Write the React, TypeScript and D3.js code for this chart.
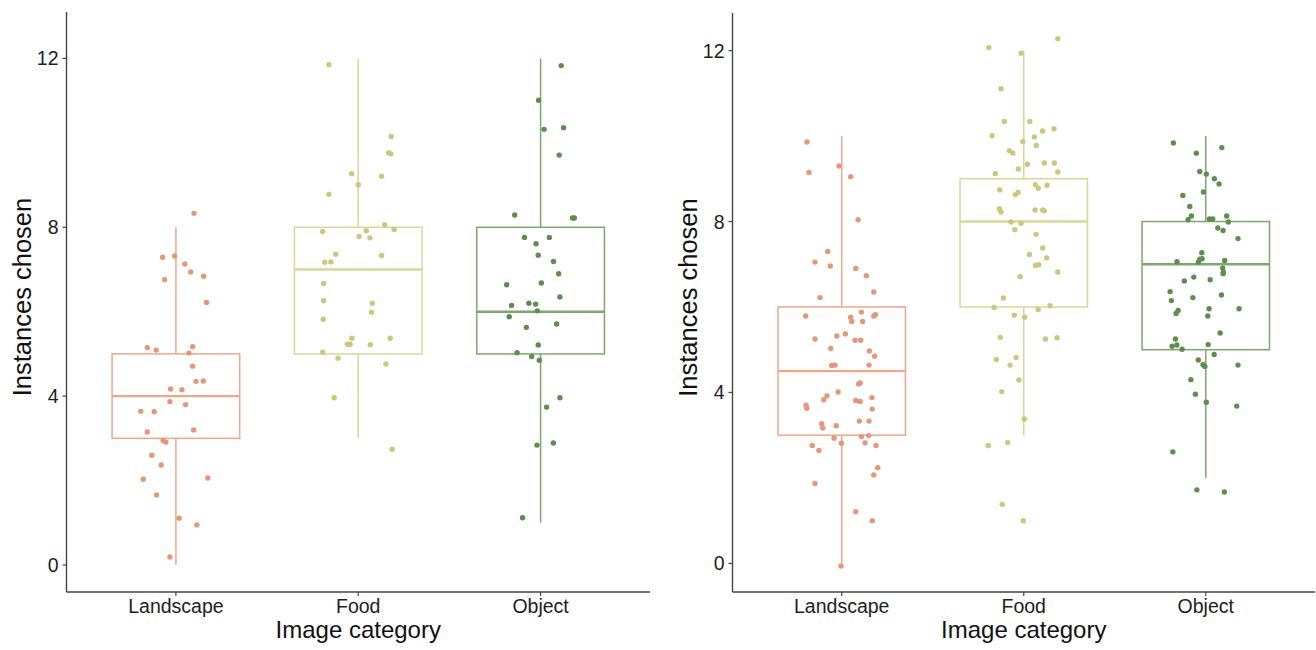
import React from "react";
import * as d3 from "d3";

// categories and box statistics [lower whisker, q1, median, q3, upper whisker]
const categories = ["Landscape", "Food", "Object"];
const yTicks = [0, 4, 8, 12];

const leftBoxStats = [
  [0, 3, 4, 5, 8],
  [3, 5, 7, 8, 12],
  [1, 5, 6, 8, 12]
];
const rightBoxStats = [
  [0, 3, 4.5, 6, 10],
  [3, 6, 8, 9, 12],
  [2, 5, 7, 8, 10]
];

// jittered points: value, horizontal jitter (in category units)
const leftLandscapeValues = [8.33, 7.29, 7.32, 7.13, 6.94, 6.84, 6.76, 6.22, 5.15, 5.09, 5.17, 5.02, 4.71, 4.35, 4.36, 4.17, 4.15, 3.87, 3.8, 3.64, 3.63, 3.15, 3.2, 2.95, 2.91, 2.6, 2.37, 2.03, 2.06, 1.66, 1.11, 0.95, 0.19];
const leftLandscapeJitter = [0.099, -0.073, -0.007, 0.049, 0.081, 0.152, -0.062, 0.168, -0.157, -0.108, 0.092, 0.071, 0.092, 0.11, 0.15, -0.029, 0.033, -0.033, 0.053, -0.193, -0.119, -0.157, 0.097, -0.07, -0.055, -0.132, -0.081, -0.179, 0.175, -0.106, 0.018, 0.115, -0.033];

const leftFoodValues = [11.85, 10.15, 9.76, 9.74, 9.27, 9.21, 9.01, 8.78, 8.06, 7.9, 7.95, 7.92, 7.78, 7.75, 7.36, 7.33, 7.17, 7.18, 6.67, 6.26, 6.2, 5.99, 5.82, 5.37, 5.23, 5.23, 5.22, 5.37, 5.04, 4.9, 4.76, 3.96, 2.74];
const leftFoodJitter = [-0.161, 0.181, 0.167, 0.179, -0.036, 0.128, 0.0, -0.161, 0.145, -0.195, 0.197, 0.044, 0.004, 0.064, -0.124, 0.128, -0.184, -0.15, -0.19, -0.19, 0.077, 0.073, -0.192, -0.035, -0.06, -0.045, 0.066, 0.175, -0.195, -0.111, 0.152, -0.132, 0.186];

const leftObjectValues = [11.83, 11.01, 10.32, 10.36, 9.71, 8.29, 8.22, 8.22, 7.76, 7.76, 7.61, 7.34, 7.19, 6.9, 6.64, 6.68, 6.35, 6.15, 6.2, 6.18, 6.02, 5.88, 5.63, 5.71, 5.21, 5.03, 4.94, 4.85, 3.96, 3.74, 2.84, 2.89, 1.12];
const leftObjectJitter = [0.113, -0.011, 0.019, 0.126, 0.102, -0.142, 0.175, 0.185, -0.088, 0.048, -0.025, -0.013, 0.071, 0.099, -0.186, 0.004, 0.106, -0.159, -0.064, -0.027, -0.018, -0.172, -0.078, 0.088, -0.013, -0.129, -0.049, -0.007, 0.106, 0.033, -0.02, 0.07, -0.099];

const rightLandscapeValues = [9.86, 9.15, 9.3, 9.05, 8.04, 7.3, 7.05, 6.96, 6.9, 6.73, 6.35, 6.22, 5.79, 5.76, 5.66, 5.88, 5.66, 5.79, 5.82, 5.25, 5.32, 5.37, 5.22, 5.22, 5.03, 4.97, 4.85, 4.63, 4.64, 4.64, 4.2, 4.22, 4.01, 3.92, 3.83, 3.81, 3.79, 3.88, 3.7, 3.63, 3.61, 3.27, 3.17, 3.22, 3.33, 3.33, 2.93, 2.97, 2.99, 2.81, 2.82, 2.76, 2.64, 2.76, 2.24, 2.07, 1.87, 1.21, 1.0, -0.06];
const rightLandscapeJitter = [-0.191, -0.18, -0.015, 0.049, 0.09, -0.077, -0.147, -0.063, 0.077, 0.135, 0.176, -0.119, -0.198, 0.049, 0.055, 0.108, 0.115, 0.176, 0.185, -0.147, -0.027, 0.02, 0.073, 0.104, -0.06, 0.152, 0.181, -0.055, -0.037, 0.15, 0.093, 0.101, -0.02, -0.081, -0.099, 0.077, 0.101, 0.166, -0.196, -0.192, 0.168, -0.11, -0.104, -0.03, 0.097, 0.15, -0.042, 0.108, 0.148, -0.002, 0.128, -0.162, -0.125, 0.188, 0.198, 0.176, -0.147, 0.077, 0.168, -0.004];

const rightFoodValues = [12.07, 12.28, 11.94, 11.11, 10.34, 10.34, 10.01, 9.98, 10.12, 10.17, 9.87, 9.78, 9.66, 9.6, 9.34, 9.23, 9.37, 9.37, 9.16, 9.12, 8.86, 8.78, 8.85, 8.74, 8.63, 8.68, 8.3, 8.22, 8.27, 8.27, 8.25, 7.99, 7.96, 7.81, 7.7, 7.38, 7.23, 7.15, 6.97, 6.99, 6.82, 6.71, 6.21, 5.99, 6.03, 5.94, 5.81, 5.76, 5.29, 5.25, 5.28, 4.77, 4.82, 4.64, 4.29, 4.02, 3.38, 2.76, 2.83, 1.38, 1.0];
const rightFoodJitter = [-0.192, 0.187, -0.015, -0.125, -0.107, 0.033, -0.174, 0.058, 0.104, 0.166, -0.005, 0.069, -0.079, -0.06, 0.02, -0.03, 0.113, 0.168, 0.187, -0.156, 0.064, 0.08, 0.128, -0.132, -0.046, -0.031, -0.134, -0.125, 0.062, 0.104, 0.113, -0.07, -0.015, -0.049, 0.068, 0.104, 0.031, 0.126, 0.064, 0.082, 0.187, -0.02, -0.112, -0.163, 0.145, 0.079, -0.052, 0.005, -0.129, 0.119, 0.183, -0.151, -0.042, -0.075, -0.027, -0.121, 0.003, -0.195, -0.088, -0.118, -0.002];

const rightObjectValues = [9.84, 9.73, 9.6, 9.17, 9.11, 9.0, 8.88, 8.69, 8.61, 8.35, 8.13, 8.04, 8.06, 8.06, 8.13, 7.99, 7.85, 7.79, 7.6, 7.27, 7.06, 7.12, 7.13, 7.05, 7.09, 6.91, 6.82, 6.78, 6.61, 6.7, 6.64, 6.36, 6.15, 6.22, 6.28, 5.96, 5.96, 5.92, 5.85, 5.79, 5.39, 5.25, 5.08, 5.11, 5.01, 5.12, 4.89, 4.76, 4.65, 4.61, 4.64, 4.3, 3.96, 3.77, 3.68, 2.61, 1.72, 1.67];
const rightObjectJitter = [-0.178, 0.088, -0.052, -0.033, 0.003, 0.047, 0.073, -0.013, -0.126, -0.088, -0.079, -0.097, 0.02, 0.038, 0.115, 0.124, 0.066, 0.095, 0.177, -0.022, -0.158, -0.033, -0.02, -0.041, 0.104, 0.093, 0.097, 0.095, -0.118, -0.066, 0.024, -0.196, -0.189, -0.071, 0.086, 0.183, 0.018, -0.152, -0.163, 0.011, 0.079, -0.167, -0.185, -0.159, -0.13, 0.013, 0.046, -0.041, -0.015, -0.005, 0.177, -0.082, -0.057, 0.003, 0.17, -0.181, -0.049, 0.102];

const boxColors = ["#efa68c", "#d9d69c", "#80a670"];
const pointColors = ["#e3987c", "#cbc77f", "#5f8d50"];

const FONT = "'Liberation Sans', Arial, Helvetica, sans-serif";

interface PanelProps {
  left: number;
  right: number;
  top: number;
  bottom: number;
  yDomain: [number, number];
  boxStats: number[][];
  values: number[][];
  jitter: number[][];
}

function Panel({ left, right, top, bottom, yDomain, boxStats, values, jitter }: PanelProps) {
  // ggplot-style discrete axis: 0.6 units of padding on each side
  const x = d3.scaleLinear().domain([0.4, 3.6]).range([left, right]);
  const y = d3.scaleLinear().domain(yDomain).range([bottom, top]);
  const boxHalf = 0.35;
  const midY = (top + bottom) / 2 - 5;
  const midX = x(2);

  return (
    <g>
      {categories.map((c, i) => {
        const [lo, q1, med, q3, hi] = boxStats[i];
        const cx = x(i + 1);
        const x0 = x(i + 1 - boxHalf);
        const x1 = x(i + 1 + boxHalf);
        const col = boxColors[i];
        return (
          <g key={c}>
            <line x1={cx} x2={cx} y1={y(hi)} y2={y(q3)} stroke={col} strokeWidth={1.5} />
            <line x1={cx} x2={cx} y1={y(q1)} y2={y(lo)} stroke={col} strokeWidth={1.5} />
            <rect x={x0} y={y(q3)} width={x1 - x0} height={y(q1) - y(q3)} fill="none" stroke={col} strokeWidth={1.5} />
            <line x1={x0} x2={x1} y1={y(med)} y2={y(med)} stroke={col} strokeWidth={2.4} />
          </g>
        );
      })}
      {categories.map((c, i) =>
        values[i].map((v, j) => (
          <circle
            key={c + j}
            cx={x(i + 1 + jitter[i][j])}
            cy={y(v)}
            r={2.7}
            fill={pointColors[i]}
          />
        ))
      )}
      {/* axes */}
      <line x1={left} x2={left} y1={top} y2={bottom} stroke="#444" strokeWidth={1.4} />
      <line x1={left} x2={right} y1={bottom} y2={bottom} stroke="#444" strokeWidth={1.4} />
      {yTicks.map(t => (
        <g key={t}>
          <line x1={left - 4} x2={left} y1={y(t)} y2={y(t)} stroke="#444" strokeWidth={1.2} />
          <text x={left - 8} y={y(t)} dy="0.36em" textAnchor="end" fontSize={19.5} fill="#1e1e1e" fontFamily={FONT}>
            {t}
          </text>
        </g>
      ))}
      {categories.map((c, i) => (
        <g key={c}>
          <line x1={x(i + 1)} x2={x(i + 1)} y1={bottom} y2={bottom + 4} stroke="#444" strokeWidth={1.2} />
          <text x={x(i + 1)} y={bottom + 21} textAnchor="middle" fontSize={19.5} fill="#1e1e1e" fontFamily={FONT}>
            {c}
          </text>
        </g>
      ))}
      <text x={midX} y={bottom + 46} textAnchor="middle" fontSize={24} fill="#111" fontFamily={FONT}>
        Image category
      </text>
      <text
        transform={`translate(${left - 35.5},${midY}) rotate(-90)`}
        textAnchor="middle"
        fontSize={25.5}
        fill="#111"
        fontFamily={FONT}
      >
        Instances chosen
      </text>
    </g>
  );
}

export default function App() {
  return (
    <svg
      width={1316}
      height={650}
      style={{ position: "absolute", left: 0, top: 0, background: "#fff" }}
    >
      <rect width={1316} height={650} fill="#fff" />
      <Panel
        left={66.5}
        right={650}
        top={12}
        bottom={592}
        yDomain={[-0.64, 13.1]}
        boxStats={leftBoxStats}
        values={[leftLandscapeValues, leftFoodValues, leftObjectValues]}
        jitter={[leftLandscapeJitter, leftFoodJitter, leftObjectJitter]}
      />
      <Panel
        left={732.5}
        right={1315}
        top={13}
        bottom={592}
        yDomain={[-0.67, 12.88]}
        boxStats={rightBoxStats}
        values={[rightLandscapeValues, rightFoodValues, rightObjectValues]}
        jitter={[rightLandscapeJitter, rightFoodJitter, rightObjectJitter]}
      />
    </svg>
  );
}
